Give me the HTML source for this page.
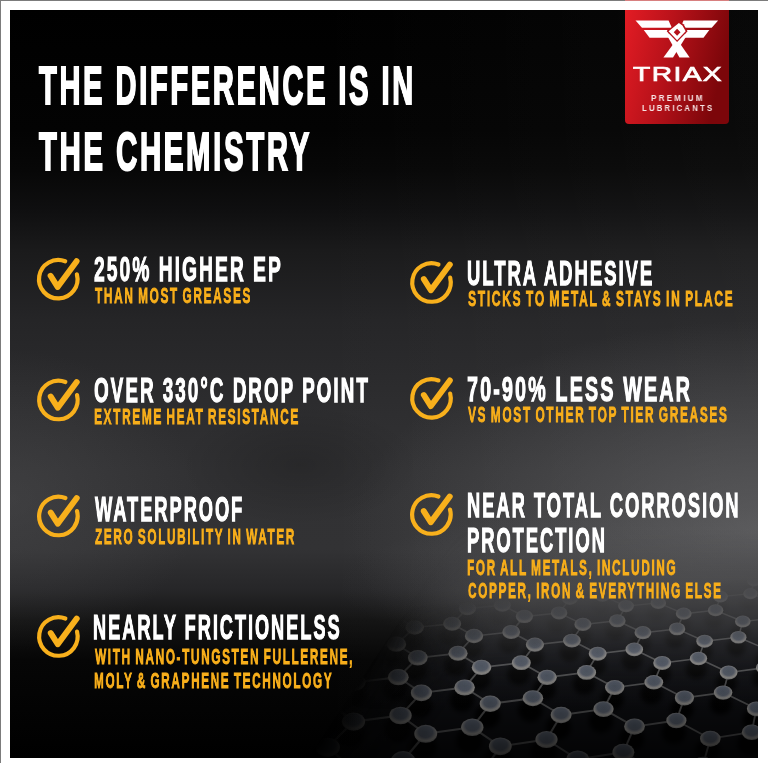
<!DOCTYPE html>
<html><head><meta charset="utf-8">
<style>
html,body{margin:0;padding:0}
body{width:768px;height:768px;position:relative;overflow:hidden;background:#fff}
#topline{position:absolute;left:0;top:0;width:768px;height:1px;background:#7c7c7c}
#topred{position:absolute;left:625px;top:0;width:104px;height:1px;background:#d88080}
#leftline{position:absolute;left:0;top:0;width:1px;height:763px;background:#7c7c7c}
#panel{position:absolute;left:10px;top:10px;width:748px;height:748px;overflow:hidden;
background:
 radial-gradient(ellipse 420px 210px at 760px 520px, rgba(118,118,120,.55), rgba(118,118,120,0)),
 radial-gradient(ellipse 330px 80px at 660px 575px, rgba(90,90,92,.5), rgba(90,90,92,0)),
 radial-gradient(ellipse 190px 150px at 0px 490px, rgba(82,82,84,.4), rgba(82,82,84,0)),
 radial-gradient(ellipse 120px 60px at 290px 455px, rgba(0,0,0,.18), rgba(0,0,0,0)),
 linear-gradient(90deg, rgba(255,255,255,0) 40%, rgba(255,255,255,.03) 100%),
 linear-gradient(180deg,#000 0px,#030303 120px,#070707 160px,#0f0f10 200px,#1a1a1b 240px,#252527 310px,#2c2c2e 390px,#313133 460px,#323234 540px,#262628 580px,#141414 610px,#060606 650px,#000 748px)}
.t{position:absolute;will-change:transform;white-space:nowrap;font-family:"Liberation Sans",sans-serif;font-weight:bold;transform-origin:0 0}
.w{color:#fff}
.y{color:#f7ae1b}
.lw{color:#fff}
.lp{color:#f6e4e4}
svg{position:absolute;left:0;top:0}
#logo{position:absolute;left:625px;top:10px;width:104px;height:114px;border-radius:0 0 4px 4px;background:linear-gradient(100deg,#e41d25 0%,#c0141b 40%,#960b10 75%,#7e070b 100%)}
</style></head><body>
<div id="topline"></div><div id="topred"></div><div id="leftline"></div>
<div id="panel"></div>
<svg width="768" height="768" viewBox="0 0 768 768">
<defs>
<radialGradient id="sph" cx="50%" cy="40%" r="60%"><stop offset="0" stop-color="#606a78"/><stop offset="0.5" stop-color="#687080"/><stop offset="0.8" stop-color="#b0aeaa"/><stop offset="1" stop-color="#909090"/></radialGradient>
<filter id="blur2" x="-50%" y="-50%" width="200%" height="200%"><feGaussianBlur stdDeviation="2.5"/></filter>
<filter id="blur1"><feGaussianBlur stdDeviation="0.6"/></filter>
<linearGradient id="gy" gradientUnits="userSpaceOnUse" x1="560" y1="594" x2="565" y2="656"><stop offset="0" stop-color="#fff" stop-opacity="0"/><stop offset="0.45" stop-color="#fff" stop-opacity="0.55"/><stop offset="1" stop-color="#fff" stop-opacity="1"/></linearGradient>
<linearGradient id="gx" gradientUnits="userSpaceOnUse" x1="320" y1="740" x2="395" y2="790"><stop offset="0" stop-color="#fff" stop-opacity="0"/><stop offset="1" stop-color="#fff" stop-opacity="1"/></linearGradient>
<mask id="my" maskUnits="userSpaceOnUse" x="0" y="0" width="768" height="768"><rect x="0" y="0" width="768" height="768" fill="url(#gy)"/></mask>
<mask id="mx" maskUnits="userSpaceOnUse" x="0" y="0" width="768" height="768"><rect x="0" y="0" width="768" height="768" fill="url(#gx)"/></mask>
<linearGradient id="botfade" x1="0" y1="0" x2="0" y2="1"><stop offset="0" stop-color="#000" stop-opacity="0"/><stop offset="1" stop-color="#000" stop-opacity="0.8"/></linearGradient>
<linearGradient id="fog" gradientUnits="userSpaceOnUse" x1="0" y1="530" x2="0" y2="710"><stop offset="0" stop-color="#444446" stop-opacity="0"/><stop offset="0.33" stop-color="#464648" stop-opacity="0.75"/><stop offset="0.53" stop-color="#404042" stop-opacity="0.6"/><stop offset="0.8" stop-color="#333335" stop-opacity="0.15"/><stop offset="1" stop-color="#2a2a2c" stop-opacity="0"/></linearGradient>
<clipPath id="pclip"><rect x="10" y="10" width="748" height="748"/></clipPath>
</defs>
<g clip-path="url(#pclip)">
<g mask="url(#mx)"><g mask="url(#my)">
<rect x="250" y="560" width="520" height="210" fill="#101115"/>
<g filter="url(#blur1)"><g fill="#000" opacity="0.9" filter="url(#blur2)"><ellipse cx="310.4" cy="553.8" rx="9.3" ry="9.1"/><ellipse cx="358.1" cy="541.2" rx="8.8" ry="8.6"/><ellipse cx="306.9" cy="574.0" rx="9.9" ry="9.6"/><ellipse cx="342.1" cy="551.4" rx="9.1" ry="8.9"/><ellipse cx="357.4" cy="559.8" rx="9.3" ry="9.1"/><ellipse cx="388.1" cy="539.0" rx="8.6" ry="8.4"/><ellipse cx="403.6" cy="546.8" rx="8.8" ry="8.6"/><ellipse cx="303.0" cy="596.5" rx="10.5" ry="10.2"/><ellipse cx="340.5" cy="571.2" rx="9.7" ry="9.4"/><ellipse cx="356.6" cy="580.5" rx="9.8" ry="9.6"/><ellipse cx="389.0" cy="557.3" rx="9.1" ry="8.9"/><ellipse cx="405.5" cy="565.8" rx="9.3" ry="9.0"/><ellipse cx="433.4" cy="544.5" rx="8.6" ry="8.4"/><ellipse cx="450.2" cy="552.4" rx="8.7" ry="8.5"/><ellipse cx="491.2" cy="540.2" rx="8.3" ry="8.0"/><ellipse cx="298.5" cy="622.1" rx="11.2" ry="10.9"/><ellipse cx="338.6" cy="593.3" rx="10.3" ry="10.0"/><ellipse cx="355.7" cy="603.7" rx="10.5" ry="10.2"/><ellipse cx="390.0" cy="577.6" rx="9.6" ry="9.4"/><ellipse cx="407.5" cy="587.1" rx="9.8" ry="9.5"/><ellipse cx="436.9" cy="563.2" rx="9.1" ry="8.8"/><ellipse cx="454.6" cy="572.0" rx="9.2" ry="9.0"/><ellipse cx="479.8" cy="550.1" rx="8.5" ry="8.3"/><ellipse cx="497.7" cy="558.2" rx="8.7" ry="8.5"/><ellipse cx="519.3" cy="538.0" rx="8.1" ry="7.9"/><ellipse cx="537.3" cy="545.6" rx="8.2" ry="8.0"/><ellipse cx="336.5" cy="618.3" rx="10.9" ry="10.7"/><ellipse cx="354.7" cy="630.1" rx="11.2" ry="10.9"/><ellipse cx="391.2" cy="600.4" rx="10.2" ry="10.0"/><ellipse cx="409.8" cy="611.1" rx="10.4" ry="10.1"/><ellipse cx="440.7" cy="584.1" rx="9.6" ry="9.3"/><ellipse cx="459.6" cy="593.9" rx="9.7" ry="9.5"/><ellipse cx="485.9" cy="569.3" rx="9.0" ry="8.8"/><ellipse cx="505.0" cy="578.4" rx="9.1" ry="8.9"/><ellipse cx="527.2" cy="555.8" rx="8.5" ry="8.3"/><ellipse cx="546.4" cy="564.1" rx="8.6" ry="8.4"/><ellipse cx="565.1" cy="543.4" rx="8.0" ry="7.8"/><ellipse cx="584.3" cy="551.1" rx="8.2" ry="7.9"/><ellipse cx="619.2" cy="539.1" rx="7.7" ry="7.5"/><ellipse cx="334.2" cy="646.8" rx="11.7" ry="11.4"/><ellipse cx="353.5" cy="660.2" rx="11.9" ry="11.6"/><ellipse cx="392.5" cy="626.2" rx="10.9" ry="10.6"/><ellipse cx="412.4" cy="638.3" rx="11.1" ry="10.8"/><ellipse cx="445.1" cy="607.6" rx="10.1" ry="9.9"/><ellipse cx="465.3" cy="618.7" rx="10.3" ry="10.1"/><ellipse cx="492.7" cy="590.8" rx="9.5" ry="9.3"/><ellipse cx="513.1" cy="600.9" rx="9.7" ry="9.4"/><ellipse cx="536.0" cy="575.6" rx="8.9" ry="8.7"/><ellipse cx="556.5" cy="584.9" rx="9.1" ry="8.9"/><ellipse cx="575.6" cy="561.6" rx="8.4" ry="8.2"/><ellipse cx="596.1" cy="570.2" rx="8.6" ry="8.3"/><ellipse cx="612.0" cy="548.8" rx="8.0" ry="7.8"/><ellipse cx="632.3" cy="556.8" rx="8.1" ry="7.9"/><ellipse cx="665.7" cy="544.5" rx="7.7" ry="7.5"/><ellipse cx="331.4" cy="679.4" rx="12.6" ry="12.3"/><ellipse cx="352.2" cy="694.8" rx="12.9" ry="12.5"/><ellipse cx="394.0" cy="655.6" rx="11.6" ry="11.3"/><ellipse cx="415.3" cy="669.4" rx="11.9" ry="11.6"/><ellipse cx="450.0" cy="634.2" rx="10.8" ry="10.5"/><ellipse cx="471.7" cy="646.7" rx="11.0" ry="10.7"/><ellipse cx="500.3" cy="615.0" rx="10.1" ry="9.8"/><ellipse cx="522.2" cy="626.4" rx="10.3" ry="10.0"/><ellipse cx="545.9" cy="597.7" rx="9.4" ry="9.2"/><ellipse cx="567.9" cy="608.1" rx="9.6" ry="9.4"/><ellipse cx="587.3" cy="582.0" rx="8.9" ry="8.7"/><ellipse cx="609.3" cy="591.5" rx="9.0" ry="8.8"/><ellipse cx="625.2" cy="567.6" rx="8.4" ry="8.2"/><ellipse cx="647.0" cy="576.4" rx="8.5" ry="8.3"/><ellipse cx="659.8" cy="554.4" rx="7.9" ry="7.7"/><ellipse cx="681.4" cy="562.6" rx="8.0" ry="7.8"/><ellipse cx="691.7" cy="542.3" rx="7.5" ry="7.3"/><ellipse cx="713.1" cy="549.9" rx="7.6" ry="7.4"/><ellipse cx="742.3" cy="538.2" rx="7.2" ry="7.1"/><ellipse cx="328.3" cy="717.3" rx="13.6" ry="13.2"/><ellipse cx="350.6" cy="735.2" rx="13.9" ry="13.6"/><ellipse cx="395.7" cy="689.4" rx="12.5" ry="12.2"/><ellipse cx="418.8" cy="705.3" rx="12.8" ry="12.5"/><ellipse cx="455.5" cy="664.6" rx="11.5" ry="11.3"/><ellipse cx="479.0" cy="678.9" rx="11.8" ry="11.5"/><ellipse cx="509.0" cy="642.5" rx="10.7" ry="10.5"/><ellipse cx="532.7" cy="655.4" rx="10.9" ry="10.7"/><ellipse cx="557.0" cy="622.7" rx="10.0" ry="9.8"/><ellipse cx="580.7" cy="634.4" rx="10.2" ry="9.9"/><ellipse cx="600.4" cy="604.7" rx="9.4" ry="9.1"/><ellipse cx="624.1" cy="615.4" rx="9.5" ry="9.3"/><ellipse cx="639.8" cy="588.5" rx="8.8" ry="8.6"/><ellipse cx="663.3" cy="598.3" rx="8.9" ry="8.7"/><ellipse cx="675.8" cy="573.7" rx="8.3" ry="8.1"/><ellipse cx="699.0" cy="582.7" rx="8.4" ry="8.2"/><ellipse cx="708.7" cy="560.1" rx="7.9" ry="7.7"/><ellipse cx="731.6" cy="568.5" rx="8.0" ry="7.8"/><ellipse cx="739.0" cy="547.7" rx="7.5" ry="7.3"/><ellipse cx="761.6" cy="555.4" rx="7.6" ry="7.4"/><ellipse cx="324.6" cy="761.7" rx="14.8" ry="14.4"/><ellipse cx="348.8" cy="782.9" rx="15.2" ry="14.8"/><ellipse cx="397.7" cy="728.6" rx="13.5" ry="13.2"/><ellipse cx="422.8" cy="747.3" rx="13.8" ry="13.5"/><ellipse cx="462.0" cy="699.6" rx="12.4" ry="12.1"/><ellipse cx="487.5" cy="716.1" rx="12.7" ry="12.4"/><ellipse cx="518.9" cy="673.9" rx="11.5" ry="11.2"/><ellipse cx="544.6" cy="688.7" rx="11.7" ry="11.4"/><ellipse cx="569.7" cy="651.0" rx="10.6" ry="10.4"/><ellipse cx="595.4" cy="664.3" rx="10.8" ry="10.6"/><ellipse cx="615.2" cy="630.5" rx="9.9" ry="9.7"/><ellipse cx="640.8" cy="642.5" rx="10.1" ry="9.8"/><ellipse cx="656.4" cy="612.0" rx="9.3" ry="9.1"/><ellipse cx="681.7" cy="623.0" rx="9.4" ry="9.2"/><ellipse cx="693.6" cy="595.2" rx="8.7" ry="8.5"/><ellipse cx="718.7" cy="605.2" rx="8.9" ry="8.6"/><ellipse cx="727.6" cy="579.9" rx="8.2" ry="8.0"/><ellipse cx="752.3" cy="589.2" rx="8.4" ry="8.1"/><ellipse cx="758.7" cy="565.9" rx="7.8" ry="7.6"/><ellipse cx="782.9" cy="574.5" rx="7.9" ry="7.7"/><ellipse cx="400.1" cy="774.9" rx="14.7" ry="14.3"/><ellipse cx="427.5" cy="796.9" rx="15.1" ry="14.7"/><ellipse cx="469.5" cy="740.4" rx="13.4" ry="13.1"/><ellipse cx="497.5" cy="759.7" rx="13.7" ry="13.4"/><ellipse cx="530.4" cy="710.1" rx="12.3" ry="12.0"/><ellipse cx="558.5" cy="727.3" rx="12.6" ry="12.3"/><ellipse cx="584.2" cy="683.5" rx="11.4" ry="11.1"/><ellipse cx="612.3" cy="698.8" rx="11.6" ry="11.3"/><ellipse cx="632.1" cy="659.7" rx="10.6" ry="10.3"/><ellipse cx="660.0" cy="673.5" rx="10.7" ry="10.5"/><ellipse cx="675.0" cy="638.5" rx="9.8" ry="9.6"/><ellipse cx="702.6" cy="650.9" rx="10.0" ry="9.8"/><ellipse cx="713.7" cy="619.3" rx="9.2" ry="9.0"/><ellipse cx="740.8" cy="630.7" rx="9.4" ry="9.1"/><ellipse cx="748.7" cy="602.0" rx="8.7" ry="8.5"/><ellipse cx="775.4" cy="612.4" rx="8.8" ry="8.6"/><ellipse cx="780.6" cy="586.3" rx="8.2" ry="8.0"/><ellipse cx="478.4" cy="788.5" rx="14.6" ry="14.2"/><ellipse cx="543.8" cy="752.5" rx="13.3" ry="12.9"/><ellipse cx="574.8" cy="772.6" rx="13.6" ry="13.3"/><ellipse cx="601.0" cy="721.0" rx="12.2" ry="11.9"/><ellipse cx="631.9" cy="738.8" rx="12.5" ry="12.1"/><ellipse cx="651.4" cy="693.3" rx="11.3" ry="11.0"/><ellipse cx="682.0" cy="709.1" rx="11.5" ry="11.2"/><ellipse cx="696.3" cy="668.7" rx="10.5" ry="10.2"/><ellipse cx="726.4" cy="682.9" rx="10.6" ry="10.4"/><ellipse cx="736.4" cy="646.7" rx="9.7" ry="9.5"/><ellipse cx="766.0" cy="659.5" rx="9.9" ry="9.7"/><ellipse cx="772.5" cy="626.9" rx="9.1" ry="8.9"/><ellipse cx="620.6" cy="765.0" rx="13.1" ry="12.8"/><ellipse cx="655.0" cy="785.9" rx="13.5" ry="13.1"/><ellipse cx="673.9" cy="732.3" rx="12.1" ry="11.8"/><ellipse cx="707.7" cy="750.7" rx="12.3" ry="12.0"/><ellipse cx="720.8" cy="703.5" rx="11.1" ry="10.9"/><ellipse cx="754.0" cy="719.8" rx="11.3" ry="11.1"/><ellipse cx="762.3" cy="677.9" rx="10.3" ry="10.1"/><ellipse cx="700.2" cy="778.0" rx="13.0" ry="12.7"/><ellipse cx="738.1" cy="799.7" rx="13.3" ry="13.0"/><ellipse cx="749.2" cy="743.9" rx="11.9" ry="11.6"/><ellipse cx="782.7" cy="791.4" rx="12.8" ry="12.5"/></g><g stroke="#9a9a9a" opacity="0.6"><line x1="344.0" y1="542.5" x2="359.3" y2="550.7" stroke-width="1.40"/><line x1="344.0" y1="542.5" x2="312.3" y2="544.7" stroke-width="1.40"/><line x1="344.0" y1="542.5" x2="359.9" y2="532.6" stroke-width="1.40"/><line x1="389.9" y1="530.6" x2="405.5" y2="538.2" stroke-width="1.32"/><line x1="389.9" y1="530.6" x2="359.9" y2="532.6" stroke-width="1.32"/><line x1="342.5" y1="561.7" x2="358.6" y2="570.9" stroke-width="1.48"/><line x1="342.5" y1="561.7" x2="309.0" y2="564.3" stroke-width="1.48"/><line x1="342.5" y1="561.7" x2="359.3" y2="550.7" stroke-width="1.48"/><line x1="390.9" y1="548.4" x2="407.4" y2="556.8" stroke-width="1.39"/><line x1="390.9" y1="548.4" x2="359.3" y2="550.7" stroke-width="1.39"/><line x1="390.9" y1="548.4" x2="405.5" y2="538.2" stroke-width="1.39"/><line x1="435.2" y1="536.1" x2="452.0" y2="543.9" stroke-width="1.32"/><line x1="435.2" y1="536.1" x2="405.5" y2="538.2" stroke-width="1.32"/><line x1="340.8" y1="583.3" x2="357.9" y2="593.5" stroke-width="1.57"/><line x1="340.8" y1="583.3" x2="305.2" y2="586.3" stroke-width="1.57"/><line x1="340.8" y1="583.3" x2="358.6" y2="570.9" stroke-width="1.57"/><line x1="392.0" y1="568.2" x2="409.5" y2="577.6" stroke-width="1.47"/><line x1="392.0" y1="568.2" x2="358.6" y2="570.9" stroke-width="1.47"/><line x1="392.0" y1="568.2" x2="407.4" y2="556.8" stroke-width="1.47"/><line x1="438.8" y1="554.4" x2="456.6" y2="563.0" stroke-width="1.39"/><line x1="438.8" y1="554.4" x2="407.4" y2="556.8" stroke-width="1.39"/><line x1="438.8" y1="554.4" x2="452.0" y2="543.9" stroke-width="1.39"/><line x1="481.6" y1="541.8" x2="499.5" y2="549.8" stroke-width="1.31"/><line x1="481.6" y1="541.8" x2="452.0" y2="543.9" stroke-width="1.31"/><line x1="481.6" y1="541.8" x2="493.0" y2="532.1" stroke-width="1.31"/><line x1="521.0" y1="530.2" x2="539.0" y2="537.6" stroke-width="1.24"/><line x1="521.0" y1="530.2" x2="493.0" y2="532.1" stroke-width="1.24"/><line x1="338.8" y1="607.7" x2="357.0" y2="619.2" stroke-width="1.67"/><line x1="338.8" y1="607.7" x2="300.9" y2="611.2" stroke-width="1.67"/><line x1="338.8" y1="607.7" x2="357.9" y2="593.5" stroke-width="1.67"/><line x1="393.3" y1="590.4" x2="411.9" y2="601.0" stroke-width="1.56"/><line x1="393.3" y1="590.4" x2="357.9" y2="593.5" stroke-width="1.56"/><line x1="393.3" y1="590.4" x2="409.5" y2="577.6" stroke-width="1.56"/><line x1="442.7" y1="574.8" x2="461.7" y2="584.5" stroke-width="1.46"/><line x1="442.7" y1="574.8" x2="409.5" y2="577.6" stroke-width="1.46"/><line x1="442.7" y1="574.8" x2="456.6" y2="563.0" stroke-width="1.46"/><line x1="487.8" y1="560.6" x2="506.9" y2="569.4" stroke-width="1.38"/><line x1="487.8" y1="560.6" x2="456.6" y2="563.0" stroke-width="1.38"/><line x1="487.8" y1="560.6" x2="499.5" y2="549.8" stroke-width="1.38"/><line x1="529.0" y1="547.5" x2="548.2" y2="555.7" stroke-width="1.30"/><line x1="529.0" y1="547.5" x2="499.5" y2="549.8" stroke-width="1.30"/><line x1="529.0" y1="547.5" x2="539.0" y2="537.6" stroke-width="1.30"/><line x1="566.8" y1="535.5" x2="586.0" y2="543.2" stroke-width="1.23"/><line x1="566.8" y1="535.5" x2="539.0" y2="537.6" stroke-width="1.23"/><line x1="336.6" y1="635.4" x2="356.0" y2="648.5" stroke-width="1.79"/><line x1="336.6" y1="635.4" x2="357.0" y2="619.2" stroke-width="1.79"/><line x1="394.8" y1="615.6" x2="414.7" y2="627.5" stroke-width="1.66"/><line x1="394.8" y1="615.6" x2="357.0" y2="619.2" stroke-width="1.66"/><line x1="394.8" y1="615.6" x2="411.9" y2="601.0" stroke-width="1.66"/><line x1="447.2" y1="597.7" x2="467.4" y2="608.6" stroke-width="1.55"/><line x1="447.2" y1="597.7" x2="411.9" y2="601.0" stroke-width="1.55"/><line x1="447.2" y1="597.7" x2="461.7" y2="584.5" stroke-width="1.55"/><line x1="494.7" y1="581.6" x2="515.1" y2="591.5" stroke-width="1.46"/><line x1="494.7" y1="581.6" x2="461.7" y2="584.5" stroke-width="1.46"/><line x1="494.7" y1="581.6" x2="506.9" y2="569.4" stroke-width="1.46"/><line x1="537.9" y1="566.9" x2="558.4" y2="576.0" stroke-width="1.37"/><line x1="537.9" y1="566.9" x2="506.9" y2="569.4" stroke-width="1.37"/><line x1="537.9" y1="566.9" x2="548.2" y2="555.7" stroke-width="1.37"/><line x1="577.4" y1="553.4" x2="597.9" y2="561.8" stroke-width="1.29"/><line x1="577.4" y1="553.4" x2="548.2" y2="555.7" stroke-width="1.29"/><line x1="577.4" y1="553.4" x2="586.0" y2="543.2" stroke-width="1.29"/><line x1="613.6" y1="541.1" x2="634.0" y2="548.9" stroke-width="1.22"/><line x1="613.6" y1="541.1" x2="586.0" y2="543.2" stroke-width="1.22"/><line x1="613.6" y1="541.1" x2="620.8" y2="531.6" stroke-width="1.22"/><line x1="334.1" y1="667.2" x2="354.9" y2="682.3" stroke-width="1.92"/><line x1="334.1" y1="667.2" x2="356.0" y2="648.5" stroke-width="1.92"/><line x1="396.4" y1="644.2" x2="417.8" y2="657.8" stroke-width="1.78"/><line x1="396.4" y1="644.2" x2="356.0" y2="648.5" stroke-width="1.78"/><line x1="396.4" y1="644.2" x2="414.7" y2="627.5" stroke-width="1.78"/><line x1="452.2" y1="623.7" x2="474.0" y2="636.0" stroke-width="1.65"/><line x1="452.2" y1="623.7" x2="414.7" y2="627.5" stroke-width="1.65"/><line x1="452.2" y1="623.7" x2="467.4" y2="608.6" stroke-width="1.65"/><line x1="502.4" y1="605.2" x2="524.4" y2="616.4" stroke-width="1.54"/><line x1="502.4" y1="605.2" x2="467.4" y2="608.6" stroke-width="1.54"/><line x1="502.4" y1="605.2" x2="515.1" y2="591.5" stroke-width="1.54"/><line x1="547.9" y1="588.5" x2="569.9" y2="598.7" stroke-width="1.45"/><line x1="547.9" y1="588.5" x2="515.1" y2="591.5" stroke-width="1.45"/><line x1="547.9" y1="588.5" x2="558.4" y2="576.0" stroke-width="1.45"/><line x1="589.2" y1="573.3" x2="611.1" y2="582.7" stroke-width="1.36"/><line x1="589.2" y1="573.3" x2="558.4" y2="576.0" stroke-width="1.36"/><line x1="589.2" y1="573.3" x2="597.9" y2="561.8" stroke-width="1.36"/><line x1="626.9" y1="559.4" x2="648.7" y2="568.1" stroke-width="1.28"/><line x1="626.9" y1="559.4" x2="597.9" y2="561.8" stroke-width="1.28"/><line x1="626.9" y1="559.4" x2="634.0" y2="548.9" stroke-width="1.28"/><line x1="661.5" y1="546.7" x2="683.1" y2="554.7" stroke-width="1.21"/><line x1="661.5" y1="546.7" x2="634.0" y2="548.9" stroke-width="1.21"/><line x1="661.5" y1="546.7" x2="667.3" y2="537.0" stroke-width="1.21"/><line x1="693.3" y1="535.0" x2="714.7" y2="542.4" stroke-width="1.15"/><line x1="693.3" y1="535.0" x2="667.3" y2="537.0" stroke-width="1.15"/><line x1="331.1" y1="704.1" x2="353.5" y2="721.6" stroke-width="2.08"/><line x1="331.1" y1="704.1" x2="354.9" y2="682.3" stroke-width="2.08"/><line x1="398.3" y1="677.2" x2="421.4" y2="692.9" stroke-width="1.91"/><line x1="398.3" y1="677.2" x2="354.9" y2="682.3" stroke-width="1.91"/><line x1="398.3" y1="677.2" x2="417.8" y2="657.8" stroke-width="1.91"/><line x1="458.0" y1="653.3" x2="481.5" y2="667.4" stroke-width="1.77"/><line x1="458.0" y1="653.3" x2="417.8" y2="657.8" stroke-width="1.77"/><line x1="458.0" y1="653.3" x2="474.0" y2="636.0" stroke-width="1.77"/><line x1="511.2" y1="632.0" x2="534.9" y2="644.7" stroke-width="1.64"/><line x1="511.2" y1="632.0" x2="474.0" y2="636.0" stroke-width="1.64"/><line x1="511.2" y1="632.0" x2="524.4" y2="616.4" stroke-width="1.64"/><line x1="559.1" y1="612.9" x2="582.9" y2="624.4" stroke-width="1.53"/><line x1="559.1" y1="612.9" x2="524.4" y2="616.4" stroke-width="1.53"/><line x1="559.1" y1="612.9" x2="569.9" y2="598.7" stroke-width="1.53"/><line x1="602.4" y1="595.6" x2="626.0" y2="606.1" stroke-width="1.44"/><line x1="602.4" y1="595.6" x2="569.9" y2="598.7" stroke-width="1.44"/><line x1="602.4" y1="595.6" x2="611.1" y2="582.7" stroke-width="1.44"/><line x1="641.7" y1="579.9" x2="665.2" y2="589.6" stroke-width="1.35"/><line x1="641.7" y1="579.9" x2="611.1" y2="582.7" stroke-width="1.35"/><line x1="641.7" y1="579.9" x2="648.7" y2="568.1" stroke-width="1.35"/><line x1="677.5" y1="565.6" x2="700.8" y2="574.5" stroke-width="1.27"/><line x1="677.5" y1="565.6" x2="648.7" y2="568.1" stroke-width="1.27"/><line x1="677.5" y1="565.6" x2="683.1" y2="554.7" stroke-width="1.27"/><line x1="710.4" y1="552.4" x2="733.3" y2="560.7" stroke-width="1.20"/><line x1="710.4" y1="552.4" x2="683.1" y2="554.7" stroke-width="1.20"/><line x1="710.4" y1="552.4" x2="714.7" y2="542.4" stroke-width="1.20"/><line x1="740.5" y1="540.4" x2="763.1" y2="548.0" stroke-width="1.14"/><line x1="740.5" y1="540.4" x2="714.7" y2="542.4" stroke-width="1.14"/><line x1="740.5" y1="540.4" x2="743.8" y2="531.1" stroke-width="1.14"/><line x1="327.6" y1="747.3" x2="351.9" y2="768.1" stroke-width="2.26"/><line x1="327.6" y1="747.3" x2="353.5" y2="721.6" stroke-width="2.26"/><line x1="400.5" y1="715.5" x2="425.7" y2="733.8" stroke-width="2.07"/><line x1="400.5" y1="715.5" x2="353.5" y2="721.6" stroke-width="2.07"/><line x1="400.5" y1="715.5" x2="421.4" y2="692.9" stroke-width="2.07"/><line x1="464.6" y1="687.5" x2="490.2" y2="703.8" stroke-width="1.90"/><line x1="464.6" y1="687.5" x2="421.4" y2="692.9" stroke-width="1.90"/><line x1="464.6" y1="687.5" x2="481.5" y2="667.4" stroke-width="1.90"/><line x1="521.3" y1="662.7" x2="547.1" y2="677.3" stroke-width="1.75"/><line x1="521.3" y1="662.7" x2="481.5" y2="667.4" stroke-width="1.75"/><line x1="521.3" y1="662.7" x2="534.9" y2="644.7" stroke-width="1.75"/><line x1="571.9" y1="640.6" x2="597.7" y2="653.7" stroke-width="1.63"/><line x1="571.9" y1="640.6" x2="534.9" y2="644.7" stroke-width="1.63"/><line x1="571.9" y1="640.6" x2="582.9" y2="624.4" stroke-width="1.63"/><line x1="617.3" y1="620.8" x2="642.9" y2="632.7" stroke-width="1.52"/><line x1="617.3" y1="620.8" x2="582.9" y2="624.4" stroke-width="1.52"/><line x1="617.3" y1="620.8" x2="626.0" y2="606.1" stroke-width="1.52"/><line x1="658.3" y1="602.9" x2="683.7" y2="613.7" stroke-width="1.42"/><line x1="658.3" y1="602.9" x2="626.0" y2="606.1" stroke-width="1.42"/><line x1="658.3" y1="602.9" x2="665.2" y2="589.6" stroke-width="1.42"/><line x1="695.5" y1="586.6" x2="720.5" y2="596.6" stroke-width="1.34"/><line x1="695.5" y1="586.6" x2="665.2" y2="589.6" stroke-width="1.34"/><line x1="695.5" y1="586.6" x2="700.8" y2="574.5" stroke-width="1.34"/><line x1="729.3" y1="571.9" x2="754.0" y2="581.0" stroke-width="1.26"/><line x1="729.3" y1="571.9" x2="700.8" y2="574.5" stroke-width="1.26"/><line x1="729.3" y1="571.9" x2="733.3" y2="560.7" stroke-width="1.26"/><line x1="760.3" y1="558.3" x2="784.6" y2="566.8" stroke-width="1.19"/><line x1="760.3" y1="558.3" x2="733.3" y2="560.7" stroke-width="1.19"/><line x1="760.3" y1="558.3" x2="763.1" y2="548.0" stroke-width="1.19"/><line x1="403.1" y1="760.6" x2="430.7" y2="782.2" stroke-width="2.25"/><line x1="403.1" y1="760.6" x2="351.9" y2="768.1" stroke-width="2.25"/><line x1="403.1" y1="760.6" x2="425.7" y2="733.8" stroke-width="2.25"/><line x1="472.3" y1="727.3" x2="500.3" y2="746.3" stroke-width="2.05"/><line x1="472.3" y1="727.3" x2="425.7" y2="733.8" stroke-width="2.05"/><line x1="472.3" y1="727.3" x2="490.2" y2="703.8" stroke-width="2.05"/><line x1="532.9" y1="698.2" x2="561.1" y2="715.0" stroke-width="1.88"/><line x1="532.9" y1="698.2" x2="490.2" y2="703.8" stroke-width="1.88"/><line x1="532.9" y1="698.2" x2="547.1" y2="677.3" stroke-width="1.88"/><line x1="586.6" y1="672.4" x2="614.7" y2="687.5" stroke-width="1.74"/><line x1="586.6" y1="672.4" x2="547.1" y2="677.3" stroke-width="1.74"/><line x1="586.6" y1="672.4" x2="597.7" y2="653.7" stroke-width="1.74"/><line x1="634.3" y1="649.4" x2="662.2" y2="663.0" stroke-width="1.62"/><line x1="634.3" y1="649.4" x2="597.7" y2="653.7" stroke-width="1.62"/><line x1="634.3" y1="649.4" x2="642.9" y2="632.7" stroke-width="1.62"/><line x1="677.1" y1="628.9" x2="704.6" y2="641.2" stroke-width="1.51"/><line x1="677.1" y1="628.9" x2="642.9" y2="632.7" stroke-width="1.51"/><line x1="677.1" y1="628.9" x2="683.7" y2="613.7" stroke-width="1.51"/><line x1="715.6" y1="610.3" x2="742.8" y2="621.5" stroke-width="1.41"/><line x1="715.6" y1="610.3" x2="683.7" y2="613.7" stroke-width="1.41"/><line x1="715.6" y1="610.3" x2="720.5" y2="596.6" stroke-width="1.41"/><line x1="750.5" y1="593.6" x2="777.2" y2="603.8" stroke-width="1.33"/><line x1="750.5" y1="593.6" x2="720.5" y2="596.6" stroke-width="1.33"/><line x1="750.5" y1="593.6" x2="754.0" y2="581.0" stroke-width="1.33"/><line x1="782.3" y1="578.3" x2="754.0" y2="581.0" stroke-width="1.25"/><line x1="782.3" y1="578.3" x2="784.6" y2="566.8" stroke-width="1.25"/><line x1="481.4" y1="774.3" x2="430.7" y2="782.2" stroke-width="2.23"/><line x1="481.4" y1="774.3" x2="500.3" y2="746.3" stroke-width="2.23"/><line x1="546.5" y1="739.5" x2="577.7" y2="759.3" stroke-width="2.03"/><line x1="546.5" y1="739.5" x2="500.3" y2="746.3" stroke-width="2.03"/><line x1="546.5" y1="739.5" x2="561.1" y2="715.0" stroke-width="2.03"/><line x1="603.5" y1="709.1" x2="634.5" y2="726.6" stroke-width="1.87"/><line x1="603.5" y1="709.1" x2="561.1" y2="715.0" stroke-width="1.87"/><line x1="603.5" y1="709.1" x2="614.7" y2="687.5" stroke-width="1.87"/><line x1="653.8" y1="682.3" x2="684.4" y2="697.9" stroke-width="1.72"/><line x1="653.8" y1="682.3" x2="614.7" y2="687.5" stroke-width="1.72"/><line x1="653.8" y1="682.3" x2="662.2" y2="663.0" stroke-width="1.72"/><line x1="698.5" y1="658.5" x2="728.6" y2="672.5" stroke-width="1.60"/><line x1="698.5" y1="658.5" x2="662.2" y2="663.0" stroke-width="1.60"/><line x1="698.5" y1="658.5" x2="704.6" y2="641.2" stroke-width="1.60"/><line x1="738.4" y1="637.2" x2="768.1" y2="649.9" stroke-width="1.49"/><line x1="738.4" y1="637.2" x2="704.6" y2="641.2" stroke-width="1.49"/><line x1="738.4" y1="637.2" x2="742.8" y2="621.5" stroke-width="1.49"/><line x1="774.4" y1="618.0" x2="742.8" y2="621.5" stroke-width="1.40"/><line x1="774.4" y1="618.0" x2="777.2" y2="603.8" stroke-width="1.40"/><line x1="623.4" y1="752.2" x2="657.8" y2="772.8" stroke-width="2.01"/><line x1="623.4" y1="752.2" x2="577.7" y2="759.3" stroke-width="2.01"/><line x1="623.4" y1="752.2" x2="634.5" y2="726.6" stroke-width="2.01"/><line x1="676.4" y1="720.5" x2="710.3" y2="738.7" stroke-width="1.85"/><line x1="676.4" y1="720.5" x2="634.5" y2="726.6" stroke-width="1.85"/><line x1="676.4" y1="720.5" x2="684.4" y2="697.9" stroke-width="1.85"/><line x1="723.1" y1="692.6" x2="756.4" y2="708.8" stroke-width="1.71"/><line x1="723.1" y1="692.6" x2="684.4" y2="697.9" stroke-width="1.71"/><line x1="723.1" y1="692.6" x2="728.6" y2="672.5" stroke-width="1.71"/><line x1="764.5" y1="667.8" x2="728.6" y2="672.5" stroke-width="1.58"/><line x1="764.5" y1="667.8" x2="768.1" y2="649.9" stroke-width="1.58"/><line x1="702.9" y1="765.3" x2="740.9" y2="786.7" stroke-width="1.99"/><line x1="702.9" y1="765.3" x2="657.8" y2="772.8" stroke-width="1.99"/><line x1="702.9" y1="765.3" x2="710.3" y2="738.7" stroke-width="1.99"/><line x1="751.7" y1="732.2" x2="710.3" y2="738.7" stroke-width="1.83"/><line x1="751.7" y1="732.2" x2="756.4" y2="708.8" stroke-width="1.83"/><line x1="785.4" y1="778.9" x2="740.9" y2="786.7" stroke-width="1.96"/></g><g fill="url(#sph)"><ellipse cx="312.3" cy="544.7" rx="7.8" ry="6.1"/><ellipse cx="359.9" cy="532.6" rx="7.3" ry="5.7"/><ellipse cx="309.0" cy="564.3" rx="8.2" ry="6.4"/><ellipse cx="344.0" cy="542.5" rx="7.6" ry="5.9"/><ellipse cx="359.3" cy="550.7" rx="7.8" ry="6.0"/><ellipse cx="389.9" cy="530.6" rx="7.2" ry="5.6"/><ellipse cx="405.5" cy="538.2" rx="7.3" ry="5.7"/><ellipse cx="305.2" cy="586.3" rx="8.8" ry="6.8"/><ellipse cx="342.5" cy="561.7" rx="8.1" ry="6.3"/><ellipse cx="358.6" cy="570.9" rx="8.2" ry="6.4"/><ellipse cx="390.9" cy="548.4" rx="7.6" ry="5.9"/><ellipse cx="407.4" cy="556.8" rx="7.7" ry="6.0"/><ellipse cx="435.2" cy="536.1" rx="7.2" ry="5.6"/><ellipse cx="452.0" cy="543.9" rx="7.3" ry="5.7"/><ellipse cx="493.0" cy="532.1" rx="6.9" ry="5.4"/><ellipse cx="300.9" cy="611.2" rx="9.3" ry="7.3"/><ellipse cx="340.8" cy="583.3" rx="8.6" ry="6.7"/><ellipse cx="357.9" cy="593.5" rx="8.7" ry="6.8"/><ellipse cx="392.0" cy="568.2" rx="8.0" ry="6.3"/><ellipse cx="409.5" cy="577.6" rx="8.2" ry="6.4"/><ellipse cx="438.8" cy="554.4" rx="7.5" ry="5.9"/><ellipse cx="456.6" cy="563.0" rx="7.7" ry="6.0"/><ellipse cx="481.6" cy="541.8" rx="7.1" ry="5.6"/><ellipse cx="499.5" cy="549.8" rx="7.2" ry="5.6"/><ellipse cx="521.0" cy="530.2" rx="6.7" ry="5.3"/><ellipse cx="539.0" cy="537.6" rx="6.8" ry="5.3"/><ellipse cx="338.8" cy="607.7" rx="9.1" ry="7.1"/><ellipse cx="357.0" cy="619.2" rx="9.3" ry="7.2"/><ellipse cx="393.3" cy="590.4" rx="8.5" ry="6.6"/><ellipse cx="411.9" cy="601.0" rx="8.7" ry="6.8"/><ellipse cx="442.7" cy="574.8" rx="8.0" ry="6.2"/><ellipse cx="461.7" cy="584.5" rx="8.1" ry="6.3"/><ellipse cx="487.8" cy="560.6" rx="7.5" ry="5.9"/><ellipse cx="506.9" cy="569.4" rx="7.6" ry="5.9"/><ellipse cx="529.0" cy="547.5" rx="7.1" ry="5.5"/><ellipse cx="548.2" cy="555.7" rx="7.2" ry="5.6"/><ellipse cx="566.8" cy="535.5" rx="6.7" ry="5.2"/><ellipse cx="586.0" cy="543.2" rx="6.8" ry="5.3"/><ellipse cx="620.8" cy="531.6" rx="6.4" ry="5.0"/><ellipse cx="336.6" cy="635.4" rx="9.7" ry="7.6"/><ellipse cx="356.0" cy="648.5" rx="10.0" ry="7.8"/><ellipse cx="394.8" cy="615.6" rx="9.1" ry="7.1"/><ellipse cx="414.7" cy="627.5" rx="9.2" ry="7.2"/><ellipse cx="447.2" cy="597.7" rx="8.5" ry="6.6"/><ellipse cx="467.4" cy="608.6" rx="8.6" ry="6.7"/><ellipse cx="494.7" cy="581.6" rx="7.9" ry="6.2"/><ellipse cx="515.1" cy="591.5" rx="8.1" ry="6.3"/><ellipse cx="537.9" cy="566.9" rx="7.5" ry="5.8"/><ellipse cx="558.4" cy="576.0" rx="7.6" ry="5.9"/><ellipse cx="577.4" cy="553.4" rx="7.0" ry="5.5"/><ellipse cx="597.9" cy="561.8" rx="7.1" ry="5.6"/><ellipse cx="613.6" cy="541.1" rx="6.7" ry="5.2"/><ellipse cx="634.0" cy="548.9" rx="6.7" ry="5.3"/><ellipse cx="667.3" cy="537.0" rx="6.4" ry="5.0"/><ellipse cx="334.1" cy="667.2" rx="10.5" ry="8.2"/><ellipse cx="354.9" cy="682.3" rx="10.7" ry="8.4"/><ellipse cx="396.4" cy="644.2" rx="9.7" ry="7.6"/><ellipse cx="417.8" cy="657.8" rx="9.9" ry="7.7"/><ellipse cx="452.2" cy="623.7" rx="9.0" ry="7.0"/><ellipse cx="474.0" cy="636.0" rx="9.2" ry="7.2"/><ellipse cx="502.4" cy="605.2" rx="8.4" ry="6.6"/><ellipse cx="524.4" cy="616.4" rx="8.6" ry="6.7"/><ellipse cx="547.9" cy="588.5" rx="7.9" ry="6.1"/><ellipse cx="569.9" cy="598.7" rx="8.0" ry="6.2"/><ellipse cx="589.2" cy="573.3" rx="7.4" ry="5.8"/><ellipse cx="611.1" cy="582.7" rx="7.5" ry="5.9"/><ellipse cx="626.9" cy="559.4" rx="7.0" ry="5.4"/><ellipse cx="648.7" cy="568.1" rx="7.1" ry="5.5"/><ellipse cx="661.5" cy="546.7" rx="6.6" ry="5.2"/><ellipse cx="683.1" cy="554.7" rx="6.7" ry="5.2"/><ellipse cx="693.3" cy="535.0" rx="6.3" ry="4.9"/><ellipse cx="714.7" cy="542.4" rx="6.3" ry="4.9"/><ellipse cx="743.8" cy="531.1" rx="6.0" ry="4.7"/><ellipse cx="331.1" cy="704.1" rx="11.3" ry="8.8"/><ellipse cx="353.5" cy="721.6" rx="11.6" ry="9.1"/><ellipse cx="398.3" cy="677.2" rx="10.4" ry="8.1"/><ellipse cx="421.4" cy="692.9" rx="10.6" ry="8.3"/><ellipse cx="458.0" cy="653.3" rx="9.6" ry="7.5"/><ellipse cx="481.5" cy="667.4" rx="9.8" ry="7.7"/><ellipse cx="511.2" cy="632.0" rx="8.9" ry="7.0"/><ellipse cx="534.9" cy="644.7" rx="9.1" ry="7.1"/><ellipse cx="559.1" cy="612.9" rx="8.3" ry="6.5"/><ellipse cx="582.9" cy="624.4" rx="8.5" ry="6.6"/><ellipse cx="602.4" cy="595.6" rx="7.8" ry="6.1"/><ellipse cx="626.0" cy="606.1" rx="7.9" ry="6.2"/><ellipse cx="641.7" cy="579.9" rx="7.3" ry="5.7"/><ellipse cx="665.2" cy="589.6" rx="7.5" ry="5.8"/><ellipse cx="677.5" cy="565.6" rx="6.9" ry="5.4"/><ellipse cx="700.8" cy="574.5" rx="7.0" ry="5.5"/><ellipse cx="710.4" cy="552.4" rx="6.6" ry="5.1"/><ellipse cx="733.3" cy="560.7" rx="6.6" ry="5.2"/><ellipse cx="740.5" cy="540.4" rx="6.2" ry="4.9"/><ellipse cx="763.1" cy="548.0" rx="6.3" ry="4.9"/><ellipse cx="327.6" cy="747.3" rx="12.3" ry="9.6"/><ellipse cx="351.9" cy="768.1" rx="12.7" ry="9.9"/><ellipse cx="400.5" cy="715.5" rx="11.2" ry="8.8"/><ellipse cx="425.7" cy="733.8" rx="11.5" ry="9.0"/><ellipse cx="464.6" cy="687.5" rx="10.3" ry="8.1"/><ellipse cx="490.2" cy="703.8" rx="10.6" ry="8.2"/><ellipse cx="521.3" cy="662.7" rx="9.5" ry="7.4"/><ellipse cx="547.1" cy="677.3" rx="9.7" ry="7.6"/><ellipse cx="571.9" cy="640.6" rx="8.9" ry="6.9"/><ellipse cx="597.7" cy="653.7" rx="9.0" ry="7.0"/><ellipse cx="617.3" cy="620.8" rx="8.3" ry="6.5"/><ellipse cx="642.9" cy="632.7" rx="8.4" ry="6.6"/><ellipse cx="658.3" cy="602.9" rx="7.8" ry="6.0"/><ellipse cx="683.7" cy="613.7" rx="7.9" ry="6.1"/><ellipse cx="695.5" cy="586.6" rx="7.3" ry="5.7"/><ellipse cx="720.5" cy="596.6" rx="7.4" ry="5.8"/><ellipse cx="729.3" cy="571.9" rx="6.9" ry="5.4"/><ellipse cx="754.0" cy="581.0" rx="7.0" ry="5.4"/><ellipse cx="760.3" cy="558.3" rx="6.5" ry="5.1"/><ellipse cx="784.6" cy="566.8" rx="6.6" ry="5.1"/><ellipse cx="403.1" cy="760.6" rx="12.2" ry="9.5"/><ellipse cx="430.7" cy="782.2" rx="12.6" ry="9.8"/><ellipse cx="472.3" cy="727.3" rx="11.2" ry="8.7"/><ellipse cx="500.3" cy="746.3" rx="11.4" ry="8.9"/><ellipse cx="532.9" cy="698.2" rx="10.3" ry="8.0"/><ellipse cx="561.1" cy="715.0" rx="10.5" ry="8.2"/><ellipse cx="586.6" cy="672.4" rx="9.5" ry="7.4"/><ellipse cx="614.7" cy="687.5" rx="9.7" ry="7.5"/><ellipse cx="634.3" cy="649.4" rx="8.8" ry="6.9"/><ellipse cx="662.2" cy="663.0" rx="9.0" ry="7.0"/><ellipse cx="677.1" cy="628.9" rx="8.2" ry="6.4"/><ellipse cx="704.6" cy="641.2" rx="8.3" ry="6.5"/><ellipse cx="715.6" cy="610.3" rx="7.7" ry="6.0"/><ellipse cx="742.8" cy="621.5" rx="7.8" ry="6.1"/><ellipse cx="750.5" cy="593.6" rx="7.2" ry="5.6"/><ellipse cx="777.2" cy="603.8" rx="7.3" ry="5.7"/><ellipse cx="782.3" cy="578.3" rx="6.8" ry="5.3"/><ellipse cx="481.4" cy="774.3" rx="12.1" ry="9.5"/><ellipse cx="546.5" cy="739.5" rx="11.1" ry="8.6"/><ellipse cx="577.7" cy="759.3" rx="11.3" ry="8.8"/><ellipse cx="603.5" cy="709.1" rx="10.2" ry="7.9"/><ellipse cx="634.5" cy="726.6" rx="10.4" ry="8.1"/><ellipse cx="653.8" cy="682.3" rx="9.4" ry="7.3"/><ellipse cx="684.4" cy="697.9" rx="9.6" ry="7.5"/><ellipse cx="698.5" cy="658.5" rx="8.7" ry="6.8"/><ellipse cx="728.6" cy="672.5" rx="8.9" ry="6.9"/><ellipse cx="738.4" cy="637.2" rx="8.1" ry="6.3"/><ellipse cx="768.1" cy="649.9" rx="8.3" ry="6.4"/><ellipse cx="774.4" cy="618.0" rx="7.6" ry="5.9"/><ellipse cx="623.4" cy="752.2" rx="11.0" ry="8.5"/><ellipse cx="657.8" cy="772.8" rx="11.2" ry="8.7"/><ellipse cx="676.4" cy="720.5" rx="10.1" ry="7.8"/><ellipse cx="710.3" cy="738.7" rx="10.3" ry="8.0"/><ellipse cx="723.1" cy="692.6" rx="9.3" ry="7.2"/><ellipse cx="756.4" cy="708.8" rx="9.5" ry="7.4"/><ellipse cx="764.5" cy="667.8" rx="8.6" ry="6.7"/><ellipse cx="702.9" cy="765.3" rx="10.8" ry="8.5"/><ellipse cx="740.9" cy="786.7" rx="11.1" ry="8.6"/><ellipse cx="751.7" cy="732.2" rx="9.9" ry="7.8"/><ellipse cx="785.4" cy="778.9" rx="10.7" ry="8.3"/></g></g>
<rect x="250" y="650" width="520" height="108" fill="url(#botfade)"/>
</g></g>
<rect x="250" y="530" width="520" height="180" fill="url(#fog)" mask="url(#mx)"/>
</g>
<defs><linearGradient id="lg" x1="0" y1="0" x2="1" y2="0.25"><stop offset="0" stop-color="#e31c24"/><stop offset="0.45" stop-color="#b9121a"/><stop offset="1" stop-color="#7c060a"/></linearGradient></defs>
<path d="M625 10H729V120Q729 124 725 124H629Q625 124 625 120Z" fill="url(#lg)"/>
<g transform="translate(632,16) scale(0.11719)" fill="#fff">
<path d="M30 38H312L340 100H85Z"/>
<path d="M440 38H735L680 100H412Z"/>
<path d="M100 120H300L328 185H150Z"/>
<path d="M470 120H660L610 185H442Z"/>
<path d="M290 150L350 150L492 355H405Z"/>
<path d="M418 150L478 150L350 355H268Z"/>
<path d="M400 44L440 70L474 130L385 222L296 130Z" fill="#b5111a"/><path d="M400 60L430 80L458 130L385 206L312 130Z M385 108L414 138L385 168L356 138Z" fill-rule="evenodd"/>
</g>

<path d="M76.88 274.35 A19.25 19.25 0 1 1 65.21 261.25" fill="none" stroke="#f8b01c" stroke-width="4.2" stroke-linecap="round"/><path d="M50.60 275.80 L57.60 286.90 L76.60 261.20" fill="none" stroke="#f8b01c" stroke-width="5.9" stroke-linecap="round" stroke-linejoin="round"/><path d="M77.03 395.15 A19.25 19.25 0 1 1 65.36 382.05" fill="none" stroke="#f8b01c" stroke-width="4.2" stroke-linecap="round"/><path d="M50.75 396.60 L57.75 407.70 L76.75 382.00" fill="none" stroke="#f8b01c" stroke-width="5.9" stroke-linecap="round" stroke-linejoin="round"/><path d="M77.03 511.15 A19.25 19.25 0 1 1 65.36 498.05" fill="none" stroke="#f8b01c" stroke-width="4.2" stroke-linecap="round"/><path d="M50.75 512.60 L57.75 523.70 L76.75 498.00" fill="none" stroke="#f8b01c" stroke-width="5.9" stroke-linecap="round" stroke-linejoin="round"/><path d="M77.03 631.65 A19.25 19.25 0 1 1 65.36 618.55" fill="none" stroke="#f8b01c" stroke-width="4.2" stroke-linecap="round"/><path d="M50.75 633.10 L57.75 644.20 L76.75 618.50" fill="none" stroke="#f8b01c" stroke-width="5.9" stroke-linecap="round" stroke-linejoin="round"/><path d="M450.13 277.65 A19.25 19.25 0 1 1 438.46 264.55" fill="none" stroke="#f8b01c" stroke-width="4.2" stroke-linecap="round"/><path d="M423.85 279.10 L430.85 290.20 L449.85 264.50" fill="none" stroke="#f8b01c" stroke-width="5.9" stroke-linecap="round" stroke-linejoin="round"/><path d="M450.13 393.55 A19.25 19.25 0 1 1 438.46 380.45" fill="none" stroke="#f8b01c" stroke-width="4.2" stroke-linecap="round"/><path d="M423.85 395.00 L430.85 406.10 L449.85 380.40" fill="none" stroke="#f8b01c" stroke-width="5.9" stroke-linecap="round" stroke-linejoin="round"/><path d="M450.03 509.65 A19.25 19.25 0 1 1 438.36 496.55" fill="none" stroke="#f8b01c" stroke-width="4.2" stroke-linecap="round"/><path d="M423.75 511.10 L430.75 522.20 L449.75 496.50" fill="none" stroke="#f8b01c" stroke-width="5.9" stroke-linecap="round" stroke-linejoin="round"/></svg>
<div class="t w" style="left:39.04px;top:58.58px;font-weight:bold;font-size:53.3px;line-height:53.3px;-webkit-text-stroke:2.2px currentColor;letter-spacing:5px;word-spacing:-1px;transform:scaleX(0.5445)">THE DIFFERENCE IS IN</div>
<div class="t w" style="left:39.05px;top:124.58px;font-weight:bold;font-size:53.3px;line-height:53.3px;-webkit-text-stroke:2.2px currentColor;letter-spacing:5px;word-spacing:-1px;transform:scaleX(0.5488)">THE CHEMISTRY</div>
<div class="t w" style="left:93.94px;top:251.88px;font-weight:bold;font-size:34.4px;line-height:34.4px;-webkit-text-stroke:1.25px currentColor;letter-spacing:3.6px;word-spacing:0px;transform:scaleX(0.5602)">250% HIGHER EP</div>
<div class="t y" style="left:94.50px;top:285.29px;font-weight:bold;font-size:21.6px;line-height:21.6px;-webkit-text-stroke:0.85px currentColor;letter-spacing:2.9px;word-spacing:-2.5px;transform:scaleX(0.5523)">THAN MOST GREASES</div>
<div class="t w" style="left:93.95px;top:372.63px;font-weight:bold;font-size:34.4px;line-height:34.4px;-webkit-text-stroke:1.25px currentColor;letter-spacing:3.6px;word-spacing:0px;transform:scaleX(0.5499)">OVER 330°C DROP POINT</div>
<div class="t y" style="left:93.95px;top:406.24px;font-weight:bold;font-size:21.6px;line-height:21.6px;-webkit-text-stroke:0.85px currentColor;letter-spacing:2.9px;word-spacing:-2.5px;transform:scaleX(0.5523)">EXTREME HEAT RESISTANCE</div>
<div class="t w" style="left:95.03px;top:491.53px;font-weight:bold;font-size:34.4px;line-height:34.4px;-webkit-text-stroke:1.25px currentColor;letter-spacing:3.6px;word-spacing:0px;transform:scaleX(0.5332)">WATERPROOF</div>
<div class="t y" style="left:94.50px;top:525.64px;font-weight:bold;font-size:21.6px;line-height:21.6px;-webkit-text-stroke:0.85px currentColor;letter-spacing:2.9px;word-spacing:-2.5px;transform:scaleX(0.5489)">ZERO SOLUBILITY IN WATER</div>
<div class="t w" style="left:93.44px;top:610.38px;font-weight:bold;font-size:34.4px;line-height:34.4px;-webkit-text-stroke:1.25px currentColor;letter-spacing:3.6px;word-spacing:0px;transform:scaleX(0.5314)">NEARLY FRICTIONELSS</div>
<div class="t y" style="left:94.50px;top:646.24px;font-weight:bold;font-size:21.6px;line-height:21.6px;-webkit-text-stroke:0.85px currentColor;letter-spacing:2.9px;word-spacing:-2.5px;transform:scaleX(0.5496)">WITH NANO-TUNGSTEN FULLERENE,</div>
<div class="t y" style="left:93.95px;top:669.54px;font-weight:bold;font-size:21.6px;line-height:21.6px;-webkit-text-stroke:0.85px currentColor;letter-spacing:2.9px;word-spacing:-2.5px;transform:scaleX(0.5484)">MOLY &amp; GRAPHENE TECHNOLOGY</div>
<div class="t w" style="left:467.16px;top:255.73px;font-weight:bold;font-size:34.4px;line-height:34.4px;-webkit-text-stroke:1.25px currentColor;letter-spacing:3.6px;word-spacing:0px;transform:scaleX(0.5389)">ULTRA ADHESIVE</div>
<div class="t y" style="left:467.70px;top:288.44px;font-weight:bold;font-size:21.6px;line-height:21.6px;-webkit-text-stroke:0.85px currentColor;letter-spacing:2.9px;word-spacing:-2.5px;transform:scaleX(0.5622)">STICKS TO METAL &amp; STAYS IN PLACE</div>
<div class="t w" style="left:467.12px;top:371.53px;font-weight:bold;font-size:34.4px;line-height:34.4px;-webkit-text-stroke:1.25px currentColor;letter-spacing:3.6px;word-spacing:0px;transform:scaleX(0.5767)">70-90% LESS WEAR</div>
<div class="t y" style="left:467.70px;top:404.39px;font-weight:bold;font-size:21.6px;line-height:21.6px;-webkit-text-stroke:0.85px currentColor;letter-spacing:2.9px;word-spacing:-2.5px;transform:scaleX(0.5548)">VS MOST OTHER TOP TIER GREASES</div>
<div class="t w" style="left:466.63px;top:487.68px;font-weight:bold;font-size:34.4px;line-height:34.4px;-webkit-text-stroke:1.25px currentColor;letter-spacing:3.6px;word-spacing:0px;transform:scaleX(0.5347)">NEAR TOTAL CORROSION</div>
<div class="t w" style="left:466.63px;top:523.03px;font-weight:bold;font-size:34.4px;line-height:34.4px;-webkit-text-stroke:1.25px currentColor;letter-spacing:3.6px;word-spacing:0px;transform:scaleX(0.5346)">PROTECTION</div>
<div class="t y" style="left:467.15px;top:557.19px;font-weight:bold;font-size:21.6px;line-height:21.6px;-webkit-text-stroke:0.85px currentColor;letter-spacing:2.9px;word-spacing:-2.5px;transform:scaleX(0.5497)">FOR ALL METALS, INCLUDING</div>
<div class="t y" style="left:467.70px;top:579.69px;font-weight:bold;font-size:21.6px;line-height:21.6px;-webkit-text-stroke:0.85px currentColor;letter-spacing:2.9px;word-spacing:-2.5px;transform:scaleX(0.5490)">COPPER, IRON &amp; EVERYTHING ELSE</div>
<div class="t lw" style="left:632.80px;top:63.90px;font-weight:normal;font-size:20.5px;line-height:20.5px;-webkit-text-stroke:0.7px currentColor;letter-spacing:1.0px;word-spacing:0px;transform:scaleX(1.3781)">TRIAX</div>
<div class="t lp" style="left:651.06px;top:93.66px;font-weight:bold;font-size:8.6px;line-height:8.6px;-webkit-text-stroke:0px currentColor;letter-spacing:2.4px;word-spacing:0px;transform:scaleX(0.9358)">PREMIUM</div>
<div class="t lp" style="left:642.09px;top:104.31px;font-weight:bold;font-size:8.6px;line-height:8.6px;-webkit-text-stroke:0px currentColor;letter-spacing:2.4px;word-spacing:0px;transform:scaleX(0.9053)">LUBRICANTS</div>
</body></html>
